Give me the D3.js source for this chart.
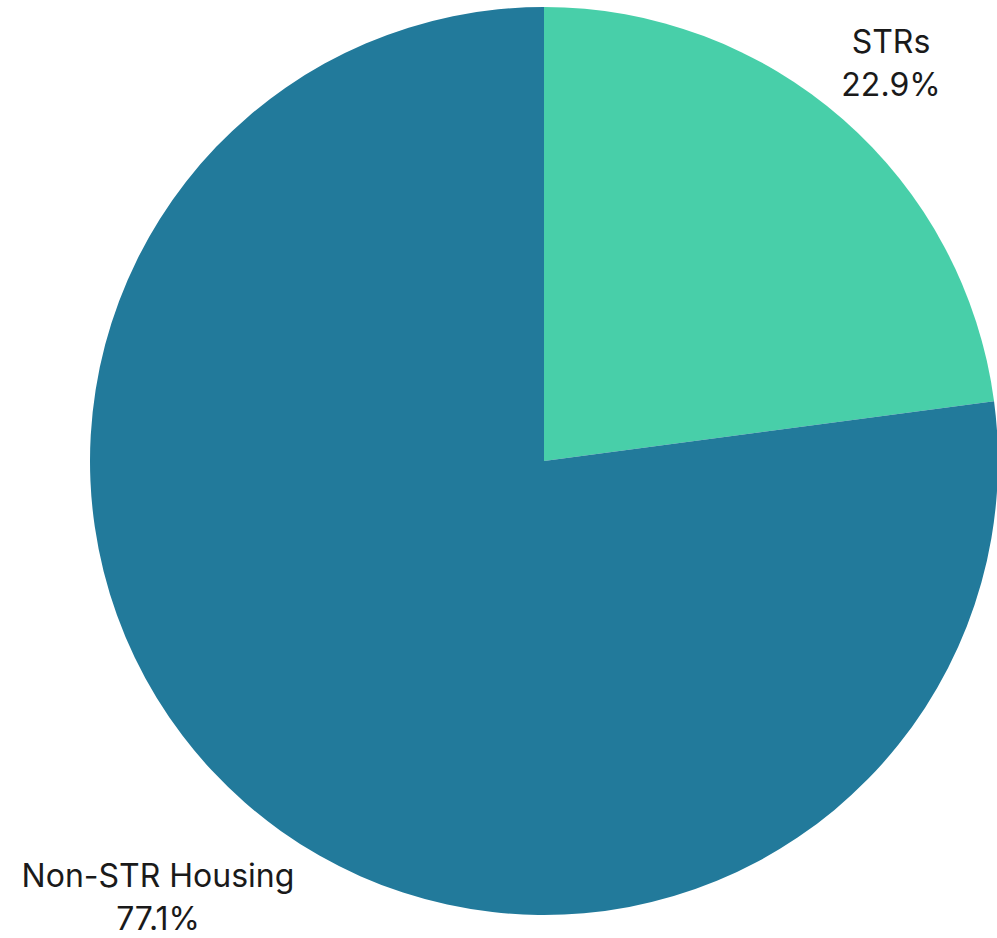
<!DOCTYPE html>
<html>
<head>
<meta charset="utf-8">
<script src="https://cdn.jsdelivr.net/npm/d3@7"></script>
<style>
  body { margin: 0; background: #fff; }
  .label { font-family: Inter, "Noto Sans", sans-serif; font-size: 32px; fill: #1a1a1a; }
</style>
</head>
<body>
<div id="chart"></div>
<script>
var categories = ["STRs", "Non-STR Housing"];
var values = [22.9, 77.1];
var colors = ["#48cfa9", "#227a9b"];

function init() {
    var w = 997;
    var h = 938;
    var cx = 544, cy = 461, r = 454;

    var data = categories.map(function(c, i) { return { name: c, value: values[i] }; });

    var svg = d3.select("#chart")
        .append("svg")
        .attr("width", w)
        .attr("height", h);

    var pie = d3.pie()
        .sort(null)
        .value(function(d) { return d.value; });

    var arc = d3.arc()
        .innerRadius(0)
        .outerRadius(r);

    var g = svg.append("g")
        .attr("transform", "translate(" + cx + "," + cy + ")");

    g.selectAll("path")
        .data(pie(data))
        .enter()
        .append("path")
        .attr("d", arc)
        .attr("fill", function(d, i) { return colors[i]; });

    // labels sit outside the pie, at the spots used in the original
    var labelPos = [[891, 53], [158, 887]];
    data.forEach(function(d, i) {
        var t = svg.append("text")
            .attr("class", "label")
            .attr("text-anchor", "middle")
            .attr("x", labelPos[i][0])
            .attr("y", labelPos[i][1]);
        t.append("tspan").attr("x", labelPos[i][0]).text(d.name);
        t.append("tspan").attr("x", labelPos[i][0]).attr("dy", 43).text(d.value.toFixed(1) + "%");
    });
}
window.onload = init;
</script>
</body>
</html>
